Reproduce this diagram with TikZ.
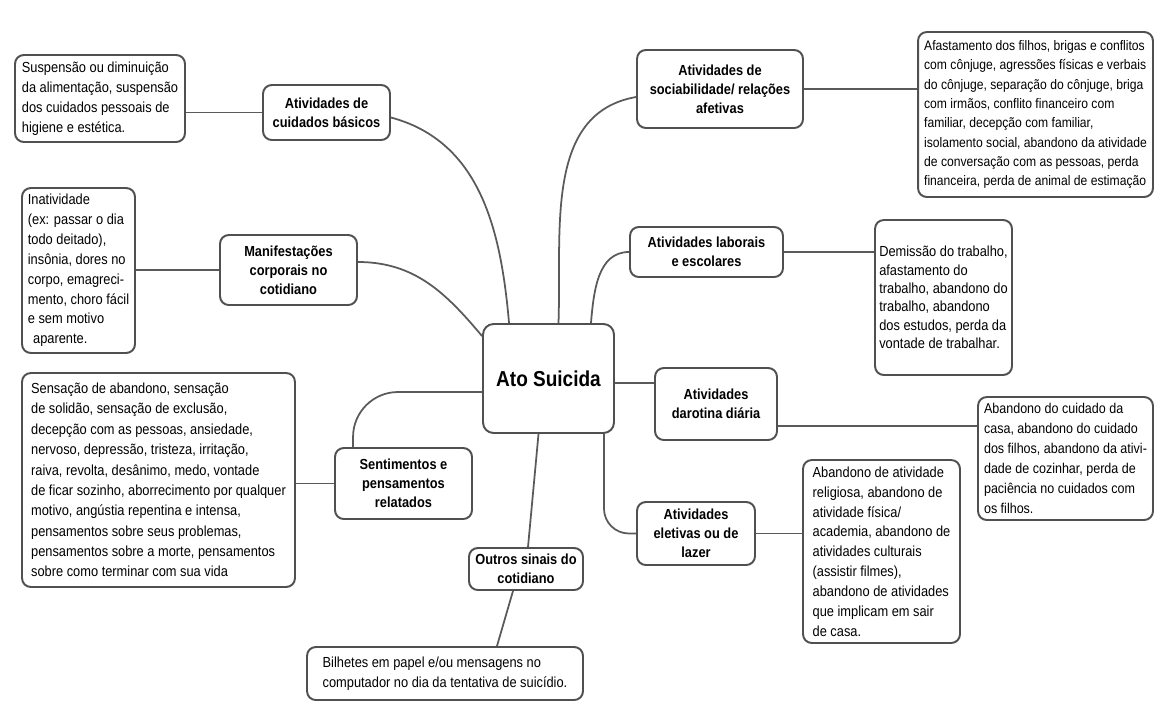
\documentclass[tikz,border=0pt]{standalone}
\usepackage{fontspec}
\setmainfont{Liberation Sans}[FakeStretch=0.88]
\usetikzlibrary{positioning}
\definecolor{boxgray}{HTML}{505050}
\definecolor{linegray}{HTML}{5A5A5A}

\begin{document}
\begin{tikzpicture}[
    x=0.02cm, y=-0.02cm,
    hub/.style={draw=boxgray, line width=1.1pt, rounded corners=6pt, align=center, font=\fontsize{12.3}{14}\selectfont\bfseries},
    topic/.style={draw=boxgray, line width=1.1pt, rounded corners=5pt, align=center, inner sep=1pt, font=\fontsize{8.3}{10.8}\selectfont\bfseries},
    detail/.style={draw=boxgray, line width=1.1pt, rounded corners=5pt, align=left, inner sep=1pt, font=\fontsize{8.3}{11.3}\selectfont},
    link/.style={draw=linegray, line width=1pt}
]
\useasboundingbox (0,0) rectangle (1156,704);

\node[hub, minimum width=2.62cm, minimum height=2.18cm] (ato) at (548.5,378.5) {Ato Suicida};

\node[topic, minimum width=2.54cm, minimum height=1.1cm] (cuid) at (326.5,112.5) {Atividades de\\cuidados básicos};
\node[topic, minimum width=3.32cm, minimum height=1.56cm] (soci) at (720,89) {Atividades de\\sociabilidade/ relações\\afetivas};
\node[topic, minimum width=2.74cm, minimum height=1.4cm] (manif) at (288.5,270) {Manifestações\\corporais no\\cotidiano};
\node[topic, minimum width=3.06cm, minimum height=1.0cm] (labor) at (706.5,252) {Atividades laborais\\e escolares};
\node[topic, minimum width=2.44cm, minimum height=1.44cm] (rotina) at (716,404) {Atividades\\darotina diária};
\node[topic, minimum width=2.36cm, minimum height=1.26cm] (eletiv) at (696,533.5) {Atividades\\eletivas ou de\\lazer};
\node[topic, minimum width=2.74cm, minimum height=1.42cm] (relat) at (403.5,483.5) {Sentimentos e\\pensamentos\\relatados};
\node[topic, minimum width=2.28cm, minimum height=0.84cm] (outros) at (526,569) {Outros sinais do\\cotidiano};

\node[detail, minimum width=3.4cm, minimum height=1.74cm] (susp) at (100,98.5) {Suspensão ou diminuição\\da alimentação, suspensão\\dos cuidados pessoais de\\higiene e estética.};
\node[detail, minimum width=4.7cm, minimum height=3.3cm, font=\fontsize{7.85}{11}\selectfont] (afast) at (1035.5,114.5) {Afastamento dos filhos, brigas e conflitos\\com cônjuge, agressões físicas e verbais\\do cônjuge, separação do cônjuge, briga\\com irmãos, conflito financeiro com\\familiar, decepção com familiar,\\isolamento social, abandono da atividade\\de conversação com as pessoas, perda\\financeira, perda de animal de estimação};
\node[detail, minimum width=2.26cm, minimum height=3.3cm] (inat) at (78.5,270.5) {Inatividade\\(ex: passar o dia\\todo deitado),\\insônia, dores no\\corpo, emagreci-\\mento, choro fácil\\e sem motivo\\\hspace{3pt}aparente.};
\node[detail, minimum width=2.74cm, minimum height=3.1cm, font=\fontsize{8.3}{10.5}\selectfont] (demis) at (943.5,297.5) {Demissão do trabalho,\\afastamento do\\trabalho, abandono do\\trabalho, abandono\\dos estudos, perda da\\vontade de trabalhar.};
\node[detail, minimum width=3.5cm, minimum height=2.46cm, font=\fontsize{8.1}{11.3}\selectfont] (casa) at (1065.5,458.5) {Abandono do cuidado da\\casa, abandono do cuidado\\dos filhos, abandono da ativi-\\dade de cozinhar, perda de\\paciência no cuidados com\\os filhos.};
\node[detail, minimum width=3.14cm, minimum height=3.66cm] (lazer) at (881.5,551.5) {Abandono de atividade\\religiosa, abandono de\\atividade física/\\academia, abandono de\\atividades culturais\\(assistir filmes),\\abandono de atividades\\que implicam em sair\\de casa.};
\node[detail, minimum width=5.46cm, minimum height=4.28cm, font=\fontsize{8.3}{11.6}\selectfont] (sent) at (158.5,480) {Sensação de abandono, sensação\\de solidão, sensação de exclusão,\\decepção com as pessoas, ansiedade,\\nervoso, depressão, tristeza, irritação,\\raiva, revolta, desânimo, medo, vontade\\de ficar sozinho, aborrecimento por qualquer\\motivo, angústia repentina e intensa,\\pensamentos sobre seus problemas,\\pensamentos sobre a morte, pensamentos\\sobre como terminar com sua vida};
\node[detail, minimum width=5.52cm, minimum height=1.06cm] (bilh) at (445,673.5) {Bilhetes em papel e/ou mensagens no\\computador no dia da tentativa de suicídio.};

\draw[link] (cuid.west) -- (cuid.west -| susp.east);
\draw[link] (soci.east) -- (soci.east -| afast.west);
\draw[link] (manif.west) -- (manif.west -| inat.east);
\draw[link] (labor.east) -- (labor.east -| demis.west);
\draw[link] (relat.west) -- (relat.west -| sent.east);
\draw[link] (eletiv.east) -- (eletiv.east -| lazer.west);
\draw[link] ([yshift=-0.09cm]ato.east) -- ([yshift=-0.09cm]ato.east -| rotina.west);
\draw[link] ([yshift=-0.44cm]rotina.east) -- ([yshift=-0.44cm]rotina.east -| casa.west);

\draw[link] ([yshift=-0.1cm]cuid.east) to[out=-15,in=95] ([xshift=0.54cm]ato.north west);
\draw[link] ([yshift=-0.16cm]soci.west) to[out=190,in=88] ([xshift=0.2cm]ato.north);
\draw[link] (labor.west) to[out=180,in=85] ([xshift=-0.48cm]ato.north east);
\draw[link] ([yshift=0.16cm]manif.east) to[out=0,in=130] ([yshift=-0.26cm]ato.north west);
\draw[link, rounded corners=0.9cm] ([yshift=-0.27cm]ato.west) -| ([xshift=0.38cm]relat.north west);
\draw[link, rounded corners=0.5cm] ([xshift=-0.22cm]ato.south east) |- (eletiv.west);
\draw[link] ([xshift=-0.2cm]ato.south) -- ([xshift=0.04cm]outros.north);
\draw[link] ([xshift=-0.26cm]outros.south) -- ([xshift=1.04cm]bilh.north);
\end{tikzpicture}
\end{document}
